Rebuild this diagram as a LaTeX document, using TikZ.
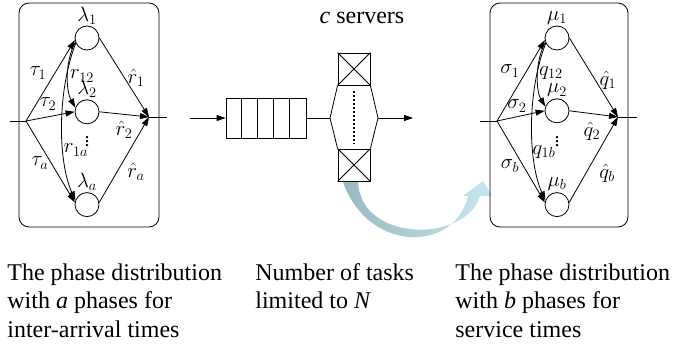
\documentclass[tikz,border=0pt]{standalone}
\usepackage{fontspec}
\setmainfont{Liberation Serif}
\usepackage{amsmath}
\usetikzlibrary{arrows.meta}
\usetikzlibrary{positioning}
\definecolor{flowdark}{RGB}{150,186,191}
\definecolor{flowlight}{RGB}{198,232,237}

\tikzset{
  phase/.style={circle, draw, minimum size=24pt, inner sep=0pt},
  pbox/.style={draw, rounded corners=10pt, minimum height=224pt},
  rate/.style={inner sep=1pt, font=\fontsize{20}{20}\selectfont},
  server/.style={draw, minimum size=32pt, inner sep=0pt},
  desc/.style={anchor=north west, align=left, inner sep=0pt, font=\fontsize{24}{28.5}\selectfont}
}

\begin{document}
\begin{tikzpicture}[x=1pt, y=1pt, line width=0.8pt, >={Triangle[length=9pt,width=6pt]}]
    \useasboundingbox (0,0) rectangle (697,-350);

    % inter-arrival phases
    \node[pbox, minimum width=140pt] (boxL) at (89,-115) {};
    \node[phase] (lambda1) at (87,-38) {};
    \node[phase, below=49pt of lambda1] (lambda2) {};
    \node[phase, below=68pt of lambda2] (lambdaa) {};
    \node[rate, above=0pt of lambda1] (llambda1) {$\lambda_{1}$};
    \node[rate, above=0pt of lambda2] (llambda2) {$\lambda_{2}$};
    \node[rate, above=0pt of lambdaa] (llambdaa) {$\lambda_{a}$};
    \coordinate (inL) at (10,-121);
    \coordinate (fanL) at (26,-121);
    \coordinate (mergeL) at (149,-117);
    \coordinate (outL) at (167,-117);
    \node[rate] (tau1) at (38,-73) {$\tau_{1}$};
    \node[rate] (tau2) at (48,-104) {$\tau_{2}$};
    \node[rate] (taua) at (40,-163) {$\tau_{a}$};
    \node[rate] (r12) at (82,-76) {$r_{12}$};
    \node[rate] (r1a) at (76,-150) {$r_{1a}$};
    \node[rate] (dotsL) at (87,-139) {$\vdots$};
    \node[rate] (rh1) at (136,-78) {$\hat{r}_{1}$};
    \node[rate] (rh2) at (124,-130) {$\hat{r}_{2}$};
    \node[rate] (rha) at (136,-172) {$\hat{r}_{a}$};

    \draw (inL) -- (fanL);
    \draw[->] (fanL) -- (lambda1.190);
    \draw[->] (fanL) -- (lambda2.west);
    \draw[->] (fanL) -- (lambdaa.170);
    \draw[->] (lambda1.200) .. controls (65.4,-60) and (65.4,-90) .. (lambda2.160);
    \draw[->] (lambda1.205) .. controls (57.4,-90) and (57.4,-160) .. (lambdaa.160);
    \draw[->] (lambda1.east) -- (mergeL);
    \draw[->] (lambda2.east) -- (mergeL);
    \draw[->] (lambdaa.10) -- (mergeL);
    \draw (mergeL) -- (outL);

    % queue and servers
    \node[font=\fontsize{24}{24}\selectfont] (servers) at (362,-18) {\textit{c} servers};
    \coordinate (inQ) at (190,-118);
    \node[draw, minimum width=80pt, minimum height=40pt, inner sep=0pt] (queue) at (266,-118) {};
    \foreach \i in {1,...,4}
      \draw ([xshift=16*\i pt]queue.north west) -- ([xshift=16*\i pt]queue.south west);
    \node[server] (srv1) at (354,-69) {};
    \node[server] (srvc) at (354,-165) {};
    \coordinate (srvL) at (330,-118);
    \coordinate (srvR) at (378,-118);
    \coordinate (outQ) at (413,-118);
    \draw (srv1.north west) -- (srv1.south east) (srv1.north east) -- (srv1.south west);
    \draw (srvc.north west) -- (srvc.south east) (srvc.north east) -- (srvc.south west);
    \draw[->] (inQ) -- (queue.west);
    \draw (queue.east) -- (srvL);
    \draw (srv1.south west) -- (srvL) -- (srvc.north west);
    \draw (srv1.south east) -- (srvR) -- (srvc.north east);
    \draw[dotted, line width=2pt] ([yshift=-6pt]srv1.south) -- ([yshift=5pt]srvc.north);
    \draw[->] (srvR) -- (outQ);

    % hand-over arrow
    \shade[left color=flowdark, right color=flowlight]
      (343,-182) .. controls (368,-253) and (455,-253) .. (468,-196)
      -- (463,-196) -- (483,-181) -- (492,-196) -- (480,-196)
      .. controls (466,-243) and (361,-243) .. (358,-182) -- cycle;

    % service phases
    \node[pbox, minimum width=138pt] (boxR) at (559,-115) {};
    \node[phase] (mu1) at (557,-38) {};
    \node[phase, below=48pt of mu1] (mu2) {};
    \node[phase, below=69pt of mu2] (mub) {};
    \node[rate, above=0pt of mu1] (lmu1) {$\mu_{1}$};
    \node[rate, above=0pt of mu2] (lmu2) {$\mu_{2}$};
    \node[rate, above=0pt of mub] (lmub) {$\mu_{b}$};
    \coordinate (inR) at (480,-121);
    \coordinate (fanR) at (497,-121);
    \coordinate (mergeR) at (618,-117);
    \coordinate (outR) at (637,-117);
    \node[rate] (sigma1) at (510,-71) {$\sigma_{1}$};
    \node[rate] (sigma2) at (517,-106) {$\sigma_{2}$};
    \node[rate] (sigmab) at (510,-166) {$\sigma_{b}$};
    \node[rate] (q12) at (551,-73) {$q_{12}$};
    \node[rate] (q1b) at (544,-152) {$q_{1b}$};
    \node[rate] (dotsR) at (557,-139) {$\vdots$};
    \node[rate] (qh1) at (608,-80) {$\hat{q}_{1}$};
    \node[rate] (qh2) at (592,-131) {$\hat{q}_{2}$};
    \node[rate] (qhb) at (607,-173) {$\hat{q}_{b}$};

    \draw (inR) -- (fanR);
    \draw[->] (fanR) -- (mu1.190);
    \draw[->] (fanR) -- (mu2.west);
    \draw[->] (fanR) -- (mub.170);
    \draw[->] (mu1.200) .. controls (535.4,-60) and (535.4,-90) .. (mu2.160);
    \draw[->] (mu1.205) .. controls (527.4,-90) and (527.4,-160) .. (mub.160);
    \draw[->] (mu1.east) -- (mergeR);
    \draw[->] (mu2.east) -- (mergeR);
    \draw[->] (mub.10) -- (mergeR);
    \draw (mergeR) -- (outR);

    % captions
    \node[desc] (descL) at (7,-263) {The phase distribution\\with \textit{a} phases for\\inter-arrival times};
    \node[desc] (descM) at (255,-263) {Number of tasks\\limited to \textit{N}};
    \node[desc] (descR) at (455,-263) {The phase distribution\\with \textit{b} phases for\\service times};
\end{tikzpicture}
\end{document}
